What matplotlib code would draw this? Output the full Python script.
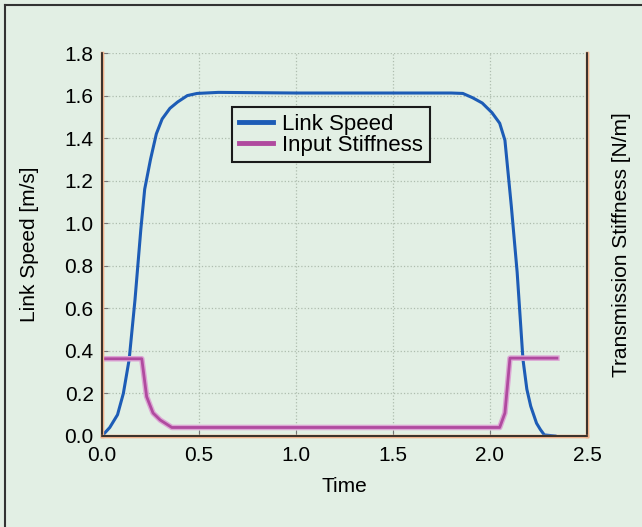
import matplotlib
matplotlib.use("Agg")
import matplotlib.pyplot as plt
import matplotlib.patheffects as pe
from matplotlib.lines import Line2D

# link speed curve
t_speed = [0.0, 0.04, 0.08, 0.11, 0.14, 0.17, 0.20, 0.22, 0.25, 0.28, 0.31, 0.35,
           0.39, 0.44, 0.49, 0.60, 1.00, 1.50, 1.80, 1.86, 1.91, 1.96, 2.01, 2.05,
           2.077, 2.11, 2.14, 2.17, 2.19, 2.21, 2.24, 2.26, 2.28, 2.335]
speed = [0.0, 0.04, 0.10, 0.20, 0.36, 0.64, 0.97, 1.16, 1.30, 1.42, 1.49, 1.54,
         1.57, 1.60, 1.61, 1.615, 1.612, 1.612, 1.612, 1.61, 1.59, 1.565, 1.52, 1.47,
         1.39, 1.08, 0.77, 0.36, 0.22, 0.14, 0.06, 0.03, 0.005, 0.0]

# input stiffness (drawn on right axis, same visual scale)
t_stiff = [0.0, 0.205, 0.23, 0.263, 0.30, 0.36, 2.05, 2.077, 2.103, 2.345]
stiff = [0.363, 0.363, 0.185, 0.108, 0.075, 0.04, 0.04, 0.108, 0.366, 0.366]

xticks = [0.0, 0.5, 1.0, 1.5, 2.0, 2.5]
yticks = [0.0, 0.2, 0.4, 0.6, 0.8, 1.0, 1.2, 1.4, 1.6, 1.8]

bg = "#e2efe4"
plt.rcParams["font.family"] = ["Liberation Sans", "DejaVu Sans"]

fig = plt.figure(figsize=(6.42, 5.27), dpi=100, facecolor=bg)
ax = fig.add_axes([0.1589, 0.1727, 0.9143 - 0.1589, 0.8994 - 0.1727])
ax.set_facecolor(bg)
ax2 = ax.twinx()

ax.plot(t_speed, speed, color="#1d5cb6", lw=2.2, label="Link Speed", zorder=3)
ax2.plot(t_stiff, stiff, color="#b04a9f", lw=2.0, zorder=2,
         path_effects=[pe.Stroke(linewidth=4.0, foreground="#dca6d4"), pe.Normal()])

ax.set_xlim(0, 2.5)
ax.set_ylim(0, 1.8)
ax2.set_ylim(0, 1.8)
ax.set_xticks(xticks)
ax.set_yticks(yticks)
ax.set_xticklabels([f"{v:.1f}" for v in xticks], fontsize=15)
ax.set_yticklabels([f"{v:.1f}" for v in yticks], fontsize=15)
ax.tick_params(direction="in", length=4, color="#777777", pad=6)
ax.tick_params(axis="x", pad=7)
ax2.set_yticks([])

ax.grid(True, linestyle=":", color="#aebdae", lw=0.9)
ax.set_axisbelow(True)

for a in (ax, ax2):
    a.spines["top"].set_visible(False)
    for s in ("left", "bottom", "right"):
        sp = a.spines[s]
        sp.set_color("#1a1a1a")
        sp.set_linewidth(1.2)
        sp.set_path_effects([pe.Stroke(linewidth=2.4, foreground="#f0b08a"), pe.Normal()])

ax.set_xlabel("Time", fontsize=15)
ax.set_ylabel("Link Speed [m/s]", fontsize=15)
ax2.set_ylabel("Transmission Stiffness [N/m]", fontsize=15)
ax.xaxis.set_label_coords(0.5, -0.108)
ax.yaxis.set_label_coords(-0.13, 0.5)
ax2.yaxis.set_label_coords(1.052, 0.5)

handles = [Line2D([], [], color="#1d5cb6", lw=3.5),
           Line2D([], [], color="#b04a9f", lw=3.5)]
leg = ax2.legend(handles, ["Link Speed", "Input Stiffness"], loc="upper left",
                 bbox_to_anchor=(0.268, 0.859), borderaxespad=0, fontsize=16,
                 fancybox=False, framealpha=1, facecolor=bg, edgecolor="#1a1a1a",
                 handlelength=1.55, handletextpad=0.4, labelspacing=0.0,
                 borderpad=0.3)
leg.get_frame().set_linewidth(1.5)

# border lines on the left and top of the figure
fig.add_artist(Line2D([0.008, 0.008], [0, 0.99], color="#333333", lw=1.5))
fig.add_artist(Line2D([0.008, 1], [0.99, 0.99], color="#333333", lw=1.5))

fig.savefig("out.png", dpi=100, facecolor=bg)
